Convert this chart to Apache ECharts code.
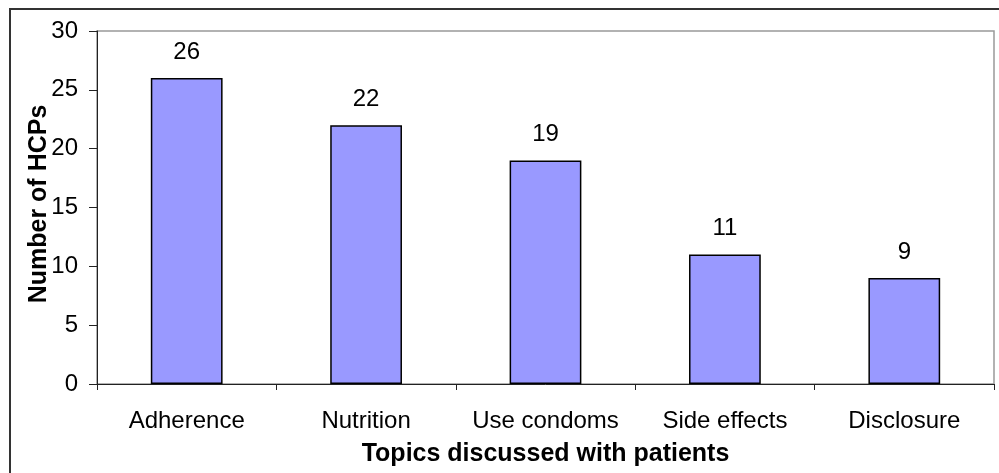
<!DOCTYPE html>
<html>
<head>
<meta charset="utf-8">
<script src="https://cdn.jsdelivr.net/npm/echarts@6/dist/echarts.min.js"></script>
<style>
  html, body { margin: 0; padding: 0; background: #fff; }
  #chart { width: 999px; height: 473px; }
</style>
</head>
<body>
<div id="chart"></div>
<script>
// Topics that HCPs discussed with their patients
const categories = ['Adherence', 'Nutrition', 'Use condoms', 'Side effects', 'Disclosure'];
const counts = [26, 22, 19, 11, 9];
const yTicks = [0, 5, 10, 15, 20, 25, 30];

const chart = echarts.init(document.getElementById('chart'));
const font = 'Liberation Sans, Arial, sans-serif';

chart.setOption({
  animation: false,
  backgroundColor: '#fff',
  graphic: [{
    type: 'rect',
    shape: { x: 10, y: 9, width: 1100, height: 600 },
    style: { fill: 'none', stroke: '#333', lineWidth: 2 },
    silent: true
  }],
  grid: {
    left: 97, top: 31, right: 5, bottom: 89,
    outerBoundsMode: 'none',
    containLabel: false,
    show: true, borderColor: '#999', borderWidth: 1.5, backgroundColor: '#fff'
  },
  xAxis: {
    type: 'category',
    data: categories,
    name: 'Topics discussed with patients',
    nameLocation: 'middle',
    nameGap: 58,
    nameMoveOverlap: false,
    nameTextStyle: { fontFamily: font, fontSize: 25, fontWeight: 'bold', color: '#000' },
    axisLine: { lineStyle: { color: '#222', width: 1 } },
    axisTick: { show: true, length: 6, alignWithLabel: false, lineStyle: { color: '#222' } },
    axisLabel: { fontFamily: font, fontSize: 24, color: '#000', margin: 25, interval: 0 }
  },
  yAxis: {
    type: 'value',
    min: yTicks[0],
    max: yTicks[yTicks.length - 1],
    interval: 5,
    name: 'Number of HCPs',
    nameLocation: 'middle',
    nameGap: 45,
    nameMoveOverlap: false,
    nameRotate: 90,
    nameTextStyle: { fontFamily: font, fontSize: 25, fontWeight: 'bold', color: '#000', padding: [0, 0, 0, 7] },
    splitLine: { show: false },
    axisLine: { show: true, lineStyle: { color: '#222', width: 1 } },
    axisTick: { show: true, length: 8, lineStyle: { color: '#222' } },
    axisLabel: { fontFamily: font, fontSize: 24, color: '#000', margin: 19 }
  },
  series: [{
    type: 'bar',
    data: counts,
    barWidth: '40%',
    itemStyle: { color: '#9999FF', borderColor: '#000', borderWidth: 1.5 },
    label: {
      show: true, position: 'top', distance: 14,
      fontFamily: font, fontSize: 24, color: '#000'
    }
  }]
});
</script>
</body>
</html>
